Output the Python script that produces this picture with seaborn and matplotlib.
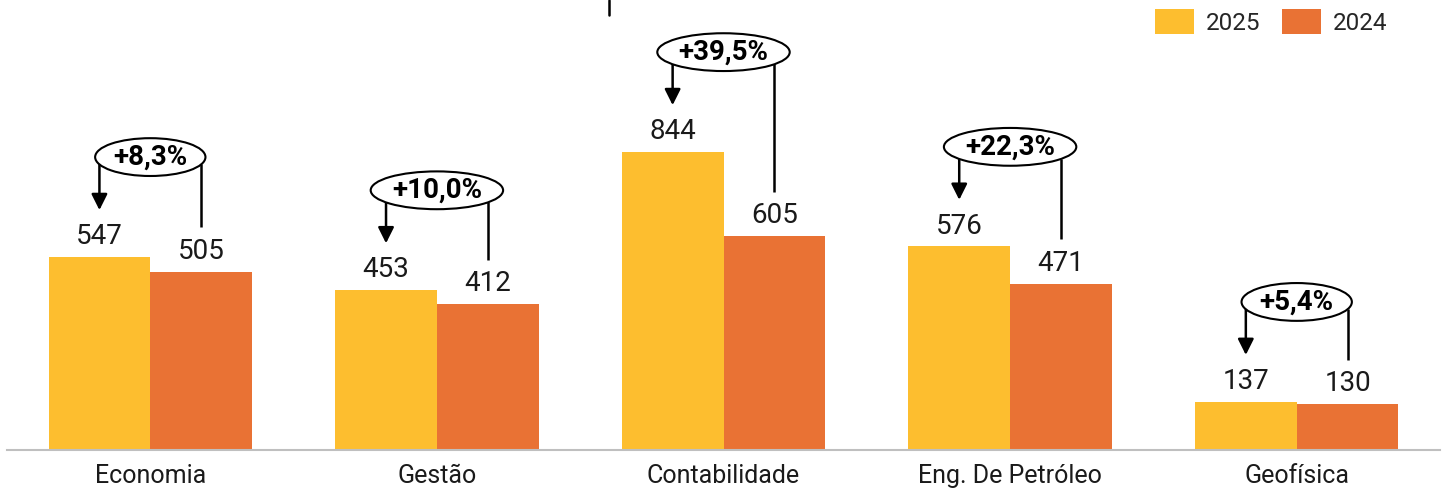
import matplotlib
matplotlib.use("Agg")
import matplotlib.pyplot as plt
from matplotlib.patches import Ellipse
from matplotlib.lines import Line2D
import seaborn as sns
import pandas as pd
import numpy as np

# --- data ---
cursos = ["Economia", "Gestão", "Contabilidade", "Eng. De Petróleo", "Geofísica"]
valores_2025 = [547, 453, 844, 576, 137]
valores_2024 = [505, 412, 605, 471, 130]
variacao = ["+8,3%", "+10,0%", "+39,5%", "+22,3%", "+5,4%"]
anos = ["2025", "2024"]
cores = {"2025": "#FDBE2F", "2024": "#E97234"}

df = pd.DataFrame({
    "curso": cursos * 2,
    "valor": valores_2025 + valores_2024,
    "ano": ["2025"] * len(cursos) + ["2024"] * len(cursos),
})

sns.set_theme(style="white")
plt.rcParams["font.family"] = ["Roboto", "DejaVu Sans"]

W, H = 1445, 490
fig = plt.figure(figsize=(W / 100, H / 100), dpi=100)
ax = fig.add_axes([7 / W, 40 / H, 1433 / W, 424 / H])

sns.barplot(data=df, x="curso", y="valor", hue="ano", hue_order=anos,
            palette=cores, width=0.71, gap=0, saturation=1, linewidth=0,
            ax=ax)

ax.set_xlim(-0.5, 4.5)
ax.set_ylim(0, 1200)
ax.set_xlabel("")
ax.set_ylabel("")
ax.set_yticks([])
ax.tick_params(axis="x", length=0, pad=10, labelsize=18, labelcolor="#1a1a1a")
sns.despine(ax=ax, left=True)
ax.spines["bottom"].set_color("#BFBFBF")
ax.spines["bottom"].set_linewidth(1.5)

# value labels
for cont in ax.containers:
    ax.bar_label(cont, padding=5, fontsize=20, color="#1a1a1a")

# variation annotations (ellipse + arrow / line)
c25, c24 = ax.containers[0], ax.containers[1]
ell_h = 107
for i, txt in enumerate(variacao):
    p25, p24 = c25[i], c24[i]
    x25 = p25.get_x() + p25.get_width() / 2
    x24 = p24.get_x() + p24.get_width() / 2
    h25, h24 = p25.get_height(), p24.get_height()
    xc = (x25 + x24) / 2
    yc = h25 + 282
    ew = 0.077 * len(txt)
    ax.add_patch(Ellipse((xc, yc), ew, ell_h, facecolor="white",
                         edgecolor="black", lw=1.5, zorder=4, clip_on=False))
    ax.text(xc, yc, txt, ha="center", va="center", fontsize=20,
            fontweight="semibold", color="black", zorder=5)

    def edge(x):
        dx = (x - xc) / (ew / 2)
        return yc - (ell_h / 2) * np.sqrt(max(0.0, 1 - dx * dx))

    ax.annotate("", xy=(x25, h25 + 132), xytext=(x25, edge(x25)),
                arrowprops=dict(arrowstyle="-|>", lw=1.8, color="black",
                                mutation_scale=24, shrinkA=0, shrinkB=0),
                zorder=3)
    ax.plot([x24, x24], [edge(x24), h24 + 125], color="black", lw=1.8,
            zorder=3, solid_capstyle="butt")

# legend
handles, labels = ax.get_legend_handles_labels()
ax.get_legend().remove()
fig.legend(handles, labels, loc="upper right",
           bbox_to_anchor=(1400 / W, 1 + 3 / H), ncol=2, frameon=False,
           fontsize=17.5, handlelength=1.6, handleheight=1.2,
           handletextpad=0.5, columnspacing=0.9, borderpad=0)

# small cut-off mark at the top
fig.add_artist(Line2D([609 / W, 609 / W], [1, 1 - 15 / H], color="black", lw=1.8))

fig.savefig("out.png", dpi=100)
